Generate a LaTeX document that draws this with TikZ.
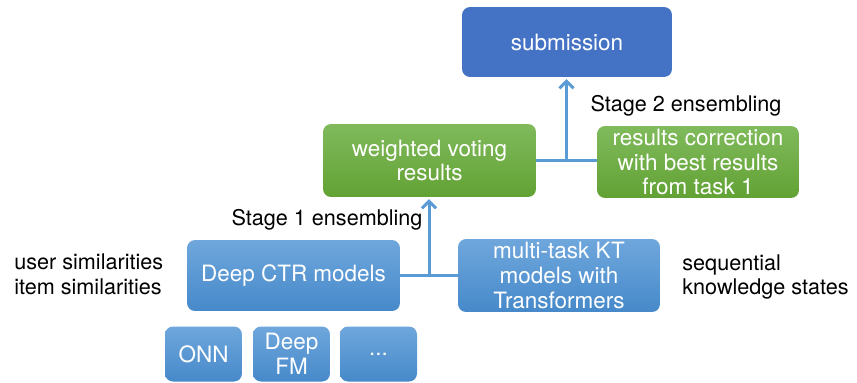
\documentclass[tikz,border=0pt]{standalone}
\usepackage{fontspec}
\setmainfont{TeX Gyre Heros}
\usetikzlibrary{arrows.meta,calc}
\definecolor{subc}{RGB}{68,114,196}
\definecolor{bltop}{RGB}{111,167,220}
\definecolor{blbot}{RGB}{70,137,202}
\definecolor{grtop}{RGB}{128,186,92}
\definecolor{grbot}{RGB}{98,162,52}
\definecolor{lnkc}{RGB}{91,155,213}
\begin{document}
\begin{tikzpicture}[x=0.02cm,y=-0.02cm,font=\fontsize{12.3}{14}\selectfont]
        \tikzset{b/.style={rounded corners=0.16cm, align=center, text=white, inner sep=0pt,
                           font=\fontsize{12.8}{14}\selectfont},
                 blu/.style={b, top color=bltop, bottom color=blbot},
                 grn/.style={b, top color=grtop, bottom color=grbot},
                 lnk/.style={draw=lnkc, line width=1.7pt},
                 tip/.style={lnk, -{Straight Barb[length=4pt,width=8pt]}, shorten >=1pt}}
        \useasboundingbox (0,0) rectangle (857,382);

        \node[b, fill=subc, minimum width=4.2cm, minimum height=1.4cm] (sub) at (567,42) {submission};
        \node[grn, minimum width=4.26cm, minimum height=1.46cm] (wvr) at (429.5,160.5) {weighted voting\\results};
        \node[grn, minimum width=4.04cm, minimum height=1.44cm] (rc) at (698,162) {results correction\\with best results\\from task 1};
        \node[blu, minimum width=4.26cm, minimum height=1.42cm] (ctr) at (293.5,275.5) {Deep CTR models};
        \node[blu, minimum width=4.04cm, minimum height=1.46cm] (mkt) at (559,275.5) {multi-task KT\\models with\\Transformers};
        \node[blu, minimum width=1.54cm, minimum height=1.1cm] (onn) at (203.5,354) {ONN};
        \node[blu, minimum width=1.54cm, minimum height=1.1cm] (dfm) at (291.5,354) {Deep\\FM};
        \node[blu, minimum width=1.54cm, minimum height=1.1cm] (etc) at (378.5,354) {...};

        \node (s1) at (327,220) {Stage 1 ensembling};
        \node (s2) at (686,106) {Stage 2 ensembling};
        \node[anchor=west, align=left, inner sep=0pt] (sim) at (14,274) {user similarities\\item similarities};
        \node[anchor=west, align=left, inner sep=0pt] (seq) at (682,277) {sequential\\knowledge states};

        \draw[lnk] (ctr.east) -- (mkt.west);
        \coordinate (j1) at ($(ctr.east)!.5!(mkt.west)$);
        \draw[tip] (j1) -- (j1 |- wvr.south);
        \draw[lnk] (wvr.east) -- (rc.west |- wvr.east);
        \coordinate (j2) at ($(wvr.east)!.5!(rc.west |- wvr.east)$);
        \draw[tip] (j2) -- (j2 |- sub.south);
\end{tikzpicture}
\end{document}
